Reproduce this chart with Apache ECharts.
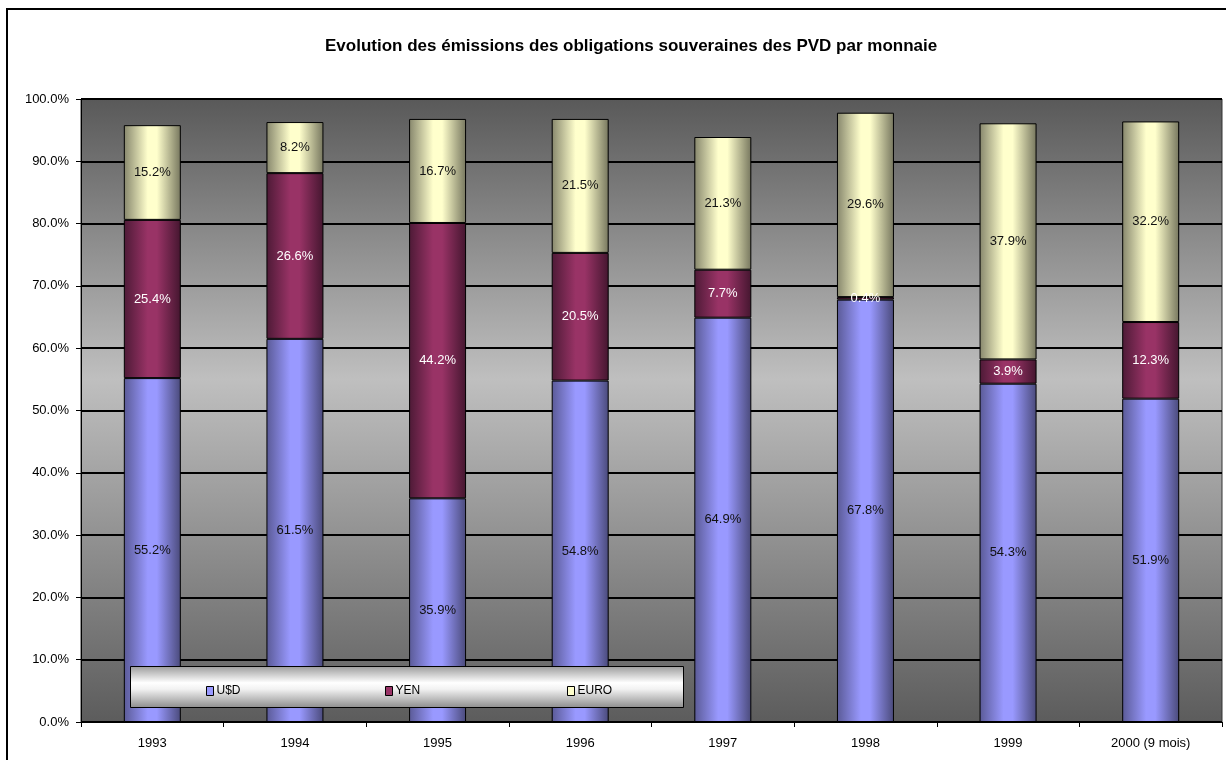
<!DOCTYPE html>
<html>
<head>
<meta charset="utf-8">
<script src="https://cdn.jsdelivr.net/npm/echarts@6/dist/echarts.min.js"></script>
<style>
  html, body { margin: 0; padding: 0; background: #fff; }
  #chart { width: 1226px; height: 760px; }
</style>
</head>
<body>
<div id="chart"></div>
<script>
// Part of each currency in sovereign bond issues (%)
const categories = ['1993', '1994', '1995', '1996', '1997', '1998', '1999', '2000 (9 mois)'];
const usd  = [55.2, 61.5, 35.9, 54.8, 64.9, 67.8, 54.3, 51.9];
const yen  = [25.4, 26.6, 44.2, 20.5, 7.7, 0.4, 3.9, 12.3];
const euro = [15.2, 8.2, 16.7, 21.5, 21.3, 29.6, 37.9, 32.2];
const yTicks = [0, 10, 20, 30, 40, 50, 60, 70, 80, 90, 100];

const G = echarts.graphic.LinearGradient;
// Cylinder-like shading: dark edges, light centre band
function cylinder(edgeL, center, edgeR) {
  return new G(0, 0, 1, 0, [
    { offset: 0, color: edgeL },
    { offset: 0.42, color: center },
    { offset: 0.58, color: center },
    { offset: 1, color: edgeR }
  ]);
}

const fontFamily = 'Liberation Sans, Arial, sans-serif';

function barSeries(name, data, fill, labelColor) {
  return {
    name: name,
    type: 'bar',
    stack: 'total',
    barWidth: 57,
    data: data,
    itemStyle: { color: fill, borderColor: '#000', borderWidth: 1 },
    label: {
      show: true,
      position: 'inside',
      color: labelColor,
      fontFamily: fontFamily,
      fontSize: 13,
      formatter: p => p.value.toFixed(1) + '%'
    },
    emphasis: { disabled: true }
  };
}

function legendAt(left, name, color) {
  return {
    left: left,
    top: 680,
    z: 10,
    itemWidth: 7,
    itemHeight: 9,
    itemGap: 0,
    selectedMode: false,
    textStyle: { fontFamily: fontFamily, fontSize: 12, color: '#000', padding: [0, 0, 0, -2] },
    data: [{ name: name, icon: 'rect', itemStyle: { color: color, borderColor: '#000', borderWidth: 1 } }]
  };
}

const chart = echarts.init(document.getElementById('chart'), null, { renderer: 'canvas' });

chart.setOption({
  animation: false,
  title: {
    text: 'Evolution des émissions des obligations souveraines des PVD par monnaie',
    left: 320,
    top: 33,
    textStyle: { fontFamily: fontFamily, fontSize: 17, fontWeight: 'bold', color: '#000' }
  },
  grid: {
    left: 81, right: 4, top: 99, bottom: 38,
    show: true,
    borderColor: '#333',
    borderWidth: 1,
    backgroundColor: new G(0, 0, 0, 1, [
      { offset: 0, color: '#595959' },
      { offset: 0.45, color: '#bfbfbf' },
      { offset: 1, color: '#5c5c5c' }
    ])
  },
  xAxis: {
    type: 'category',
    data: categories,
    axisLine: { lineStyle: { color: '#000', width: 1 } },
    axisTick: { show: true, length: 5, lineStyle: { color: '#000' } },
    axisLabel: { color: '#000', fontFamily: fontFamily, fontSize: 13, margin: 15 }
  },
  yAxis: {
    type: 'value',
    min: yTicks[0],
    max: yTicks[yTicks.length - 1],
    interval: yTicks[1] - yTicks[0],
    axisLine: { show: true, lineStyle: { color: '#000', width: 1 } },
    axisTick: { show: true, length: 5, lineStyle: { color: '#000' } },
    axisLabel: {
      color: '#000', fontFamily: fontFamily, fontSize: 13, margin: 12,
      formatter: v => v.toFixed(1) + '%'
    },
    splitLine: { show: true, lineStyle: { color: '#000', width: 2 } }
  },
  legend: [
    legendAt(201, 'U$D', '#9999ff'),
    legendAt(380, 'YEN', '#993366'),
    legendAt(562, 'EURO', '#ffffcc')
  ],
  graphic: [
    {
      type: 'rect',
      z: 5,
      shape: { x: 130.5, y: 666.5, width: 553, height: 41 },
      style: {
        fill: new G(0, 0, 0, 1, [
          { offset: 0, color: '#9a9a9a' },
          { offset: 0.4, color: '#ffffff' },
          { offset: 0.55, color: '#f2f2f2' },
          { offset: 1, color: '#8c8c8c' }
        ]),
        stroke: '#000',
        lineWidth: 1
      }
    },
    {
      type: 'rect',
      z: 20,
      shape: { x: 7, y: 9, width: 1300, height: 800 },
      style: { fill: 'none', stroke: '#000', lineWidth: 2 }
    }
  ],
  series: [
    barSeries('U$D', usd, cylinder('#5a5a96', '#9999ff', '#4a4a7a'), '#111'),
    barSeries('YEN', yen, cylinder('#4d1a36', '#993366', '#44162f'), '#fff'),
    barSeries('EURO', euro, cylinder('#86866c', '#ffffcc', '#76765e'), '#111')
  ]
});
</script>
</body>
</html>
